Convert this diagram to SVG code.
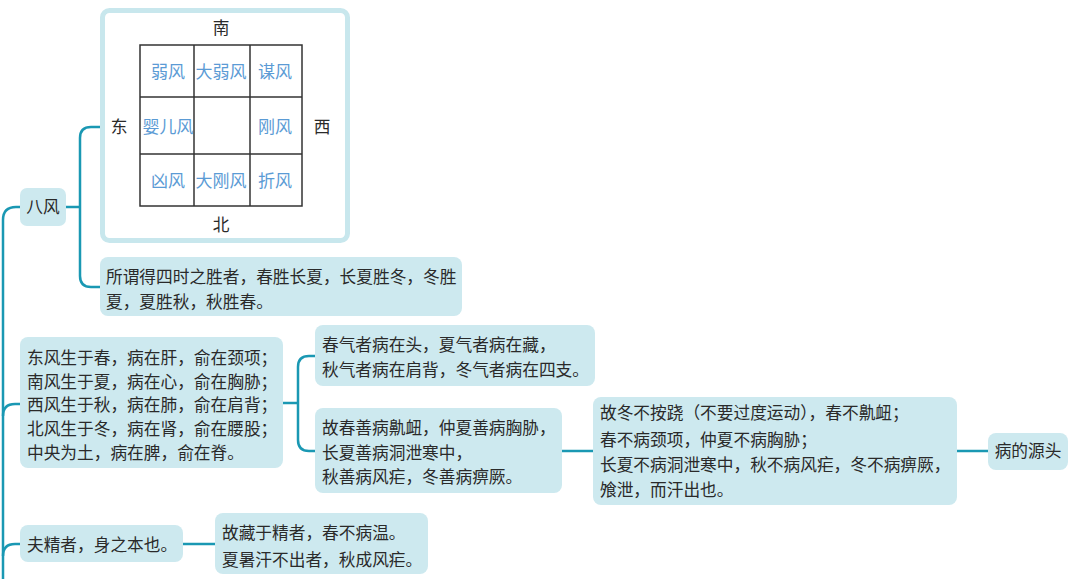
<svg xmlns="http://www.w3.org/2000/svg" width="1080" height="579" viewBox="0 0 1080 579">
<style>
.box{fill:#cde9ef;}
.t{font-family:"Noto Sans CJK SC","Noto Sans",sans-serif;font-size:16.7px;fill:#2a2a2a;}
.c{text-anchor:middle;}
.g{font-family:"Noto Sans CJK SC","Noto Sans",sans-serif;font-size:17px;fill:#5b9bd5;text-anchor:middle;}
.ln{fill:none;stroke:#1a98b3;stroke-width:2.5;}
.grid{fill:none;stroke:#333;stroke-width:1.5;}
</style>
<rect width="1080" height="579" fill="#ffffff"/>
<g id="connectors">
<path class="ln" d="M3 579 L3 220 Q3 207 16 207 L20 207"/>
<path class="ln" d="M3 416 Q3 404 15 404 L20 404"/>
<path class="ln" d="M3 556 Q3 544 15 544 L20 544"/>
<path class="ln" d="M66 207 L80 207"/>
<path class="ln" d="M100 127 L91 127 Q80 127 80 138 L80 276 Q80 287 91 287 L100 287"/>
<path class="ln" d="M283 403 L298 403"/>
<path class="ln" d="M315 356 L309 356 Q298 356 298 367 L298 440 Q298 451 309 451 L315 451"/>
<path class="ln" d="M562 451 L593 451"/>
<path class="ln" d="M957 451 L988 451"/>
<path class="ln" d="M183 544 L215 544"/>
</g>
<g id="n-bafeng">
<rect class="box" x="20" y="188" width="46" height="38" rx="7"/>
<text class="t c" x="43" y="213">八风</text>
</g>
<g id="n-diagram">
<rect x="102.5" y="10.5" width="245" height="230" rx="7" fill="#ffffff" stroke="#c8e7ed" stroke-width="5"/>
<g class="grid">
<rect x="140" y="45" width="162" height="161"/>
<line x1="194" y1="45" x2="194" y2="206"/>
<line x1="250" y1="45" x2="250" y2="206"/>
<line x1="140" y1="97" x2="302" y2="97"/>
<line x1="140" y1="154" x2="302" y2="154"/>
</g>
<text class="t c" x="221" y="34">南</text>
<text class="t c" x="221" y="231">北</text>
<text class="t c" x="119" y="133">东</text>
<text class="t c" x="322" y="133">西</text>
<text class="g" x="168" y="78">弱风</text>
<text class="g" x="221" y="78">大弱风</text>
<text class="g" x="275" y="78">谋风</text>
<text class="g" x="168" y="133">婴儿风</text>
<text class="g" x="275" y="133">刚风</text>
<text class="g" x="168" y="187">凶风</text>
<text class="g" x="221" y="187">大刚风</text>
<text class="g" x="275" y="187">折风</text>
</g>
<g id="n-sishi">
<rect class="box" x="100" y="257" width="362" height="59" rx="8"/>
<text class="t" x="106" y="283">所谓得四时之胜者，春胜长夏，长夏胜冬，冬胜</text>
<text class="t" x="106" y="308">夏，夏胜秋，秋胜春。</text>
</g>
<g id="n-wufeng">
<rect class="box" x="20" y="337" width="263" height="131" rx="8"/>
<text class="t" x="27" y="364">东风生于春，病在肝，俞在颈项；</text>
<text class="t" x="27" y="388">南风生于夏，病在心，俞在胸胁；</text>
<text class="t" x="27" y="411">西风生于秋，病在肺，俞在肩背；</text>
<text class="t" x="27" y="435">北风生于冬，病在肾，俞在腰股；</text>
<text class="t" x="27" y="459">中央为土，病在脾，俞在脊。</text>
</g>
<g id="n-siqi">
<rect class="box" x="315" y="325" width="280" height="61" rx="8"/>
<text class="t" x="322" y="351">春气者病在头，夏气者病在藏，</text>
<text class="t" x="322" y="376">秋气者病在肩背，冬气者病在四支。</text>
</g>
<g id="n-shanbing">
<rect class="box" x="315" y="408" width="247" height="85" rx="8"/>
<text class="t" x="322" y="434">故春善病鼽衄，仲夏善病胸胁，</text>
<text class="t" x="322" y="459">长夏善病洞泄寒中，</text>
<text class="t" x="322" y="483">秋善病风疟，冬善病痹厥。</text>
</g>
<g id="n-budong">
<rect class="box" x="593" y="397" width="364" height="108" rx="8"/>
<text class="t" x="600" y="419">故冬不按跷（不要过度运动），春不鼽衄；</text>
<text class="t" x="600" y="446">春不病颈项，仲夏不病胸胁；</text>
<text class="t" x="600" y="471">长夏不病洞泄寒中，秋不病风疟，冬不病痹厥，</text>
<text class="t" x="600" y="496">飧泄，而汗出也。</text>
</g>
<g id="n-yuantou">
<rect class="box" x="988" y="433" width="80" height="37" rx="8"/>
<text class="t c" x="1028" y="457">病的源头</text>
</g>
<g id="n-jing">
<rect class="box" x="20" y="525" width="163" height="37" rx="8"/>
<text class="t" x="27" y="551">夫精者，身之本也。</text>
</g>
<g id="n-cang">
<rect class="box" x="215" y="513" width="213" height="61" rx="8"/>
<text class="t" x="222" y="539">故藏于精者，春不病温。</text>
<text class="t" x="222" y="566">夏暑汗不出者，秋成风疟。</text>
</g>
</svg>
